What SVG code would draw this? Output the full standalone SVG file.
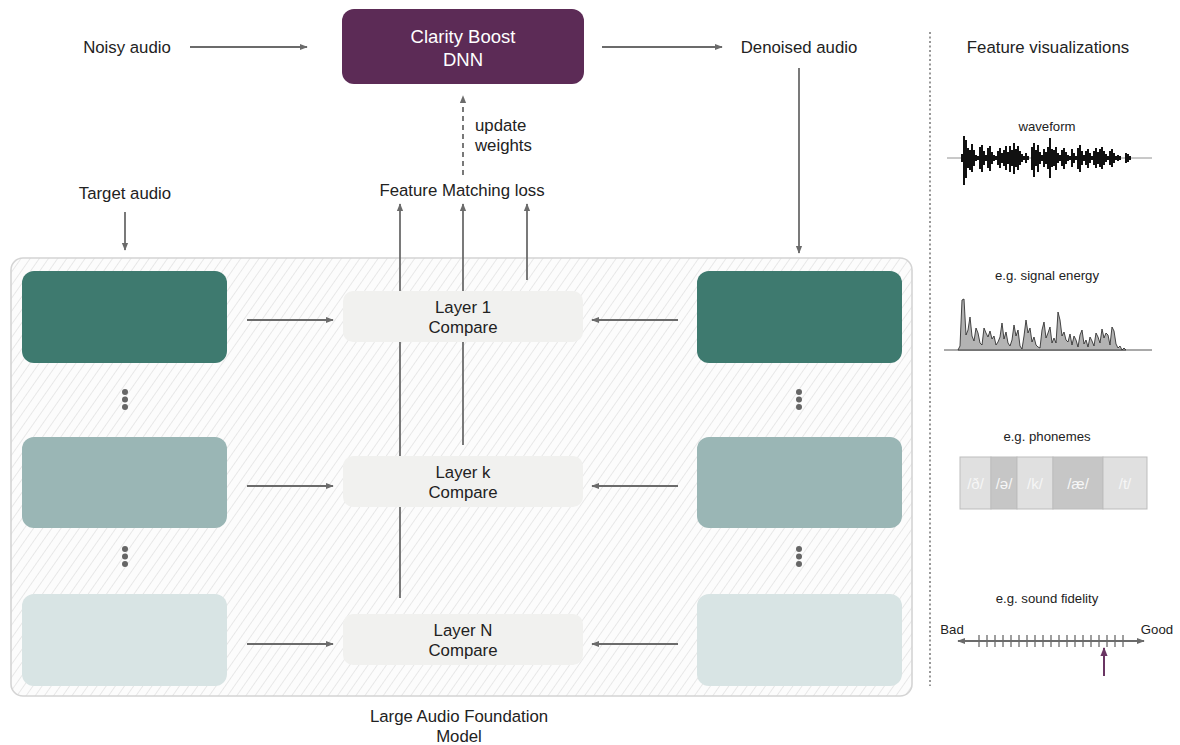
<svg xmlns="http://www.w3.org/2000/svg" width="1180" height="745" viewBox="0 0 1180 745">
<style>
text{font-family:"Liberation Sans",Arial,sans-serif;fill:#222}
.lbl{font-size:16.8px}
.sm{font-size:13.2px}
.cmp{fill:#f1f1ef}
.conn{stroke:#6b6b6b;stroke-width:1.8;fill:none}
.dot{fill:#666}
.ph{fill:#f6f6f6;font-size:15px}
</style>
<defs>
<marker id="ah" viewBox="0 0 10 10" refX="9" refY="5" markerWidth="8" markerHeight="8" orient="auto-start-reverse" markerUnits="userSpaceOnUse">
<path d="M0,1 L10,5 L0,9 z" fill="#6b6b6b"/>
</marker>
<marker id="ahp" viewBox="0 0 10 10" refX="9" refY="5" markerWidth="9" markerHeight="9" orient="auto" markerUnits="userSpaceOnUse">
<path d="M0,1 L10,5 L0,9 z" fill="#6a3563"/>
</marker>
<pattern id="hatch" width="7.5" height="7.5" patternUnits="userSpaceOnUse" patternTransform="rotate(35)">
<rect width="7.5" height="7.5" fill="#fcfcfc"/>
<line x1="0" y1="0" x2="0" y2="7.5" stroke="#dedede" stroke-width="1.3"/>
</pattern>
</defs>

<g id="container">
<rect x="11" y="258" width="901" height="438" rx="12" fill="url(#hatch)" stroke="#d4d4d4" stroke-width="1.6"/>
</g>

<g id="connectors">
<line class="conn" x1="190" y1="47" x2="307" y2="47" marker-end="url(#ah)"/>
<line class="conn" x1="602" y1="47" x2="722" y2="47" marker-end="url(#ah)"/>
<line class="conn" x1="799" y1="68" x2="799" y2="253" marker-end="url(#ah)"/>
<line class="conn" x1="125" y1="212" x2="125" y2="250" marker-end="url(#ah)"/>
<line class="conn" x1="463" y1="175" x2="463" y2="96" stroke-dasharray="5,4" marker-end="url(#ah)"/>
<line class="conn" x1="400" y1="598" x2="400" y2="204" marker-end="url(#ah)"/>
<line class="conn" x1="463" y1="445" x2="463" y2="204" marker-end="url(#ah)"/>
<line class="conn" x1="527" y1="280" x2="527" y2="204" marker-end="url(#ah)"/>
<line class="conn" x1="247" y1="320" x2="333" y2="320" marker-end="url(#ah)"/>
<line class="conn" x1="247" y1="486" x2="333" y2="486" marker-end="url(#ah)"/>
<line class="conn" x1="247" y1="644" x2="333" y2="644" marker-end="url(#ah)"/>
<line class="conn" x1="678" y1="320" x2="592" y2="320" marker-end="url(#ah)"/>
<line class="conn" x1="678" y1="486" x2="592" y2="486" marker-end="url(#ah)"/>
<line class="conn" x1="678" y1="644" x2="592" y2="644" marker-end="url(#ah)"/>
</g>

<g id="noisy"><text class="lbl" x="127" y="53" text-anchor="middle">Noisy audio</text></g>
<g id="dnn">
<rect x="342" y="9" width="242" height="75" rx="12" fill="#5c2b56"/>
<text x="463" y="43" text-anchor="middle" style="fill:#fff;font-size:18.5px">Clarity Boost</text>
<text x="463" y="66" text-anchor="middle" style="fill:#fff;font-size:18.5px">DNN</text>
</g>
<g id="denoised"><text class="lbl" x="799" y="53" text-anchor="middle">Denoised audio</text></g>
<g id="target"><text class="lbl" x="125" y="199" text-anchor="middle">Target audio</text></g>
<g id="update"><text class="lbl" x="475" y="131">update</text><text class="lbl" x="475" y="151">weights</text></g>
<g id="fml"><text class="lbl" x="462" y="196" text-anchor="middle">Feature Matching loss</text></g>

<g id="target-layer1"><rect x="22" y="271" width="205" height="92" rx="12" fill="#3e7a6f"/></g>
<g id="target-layerk"><rect x="22" y="437" width="205" height="91" rx="12" fill="#9ab6b5"/></g>
<g id="target-layerN"><rect x="22" y="594" width="205" height="92" rx="12" fill="#d8e4e4"/></g>
<g id="denoised-layer1"><rect x="697" y="271" width="205" height="92" rx="12" fill="#3e7a6f"/></g>
<g id="denoised-layerk"><rect x="697" y="437" width="205" height="91" rx="12" fill="#9ab6b5"/></g>
<g id="denoised-layerN"><rect x="697" y="594" width="205" height="92" rx="12" fill="#d8e4e4"/></g>

<g id="dots">
<circle class="dot" cx="125" cy="392" r="3"/><circle class="dot" cx="125" cy="399.5" r="3"/><circle class="dot" cx="125" cy="407" r="3"/>
<circle class="dot" cx="125" cy="549" r="3"/><circle class="dot" cx="125" cy="556.5" r="3"/><circle class="dot" cx="125" cy="564" r="3"/>
<circle class="dot" cx="799" cy="392" r="3"/><circle class="dot" cx="799" cy="399.5" r="3"/><circle class="dot" cx="799" cy="407" r="3"/>
<circle class="dot" cx="799" cy="549" r="3"/><circle class="dot" cx="799" cy="556.5" r="3"/><circle class="dot" cx="799" cy="564" r="3"/>
</g>

<g id="compare1"><rect class="cmp" x="343" y="291" width="240" height="51" rx="10"/>
<text class="lbl" x="463" y="313" text-anchor="middle">Layer 1</text><text class="lbl" x="463" y="333" text-anchor="middle">Compare</text></g>
<g id="comparek"><rect class="cmp" x="343" y="456" width="240" height="51" rx="10"/>
<text class="lbl" x="463" y="478" text-anchor="middle">Layer k</text><text class="lbl" x="463" y="498" text-anchor="middle">Compare</text></g>
<g id="compareN"><rect class="cmp" x="343" y="614" width="240" height="51" rx="10"/>
<text class="lbl" x="463" y="636" text-anchor="middle">Layer N</text><text class="lbl" x="463" y="656" text-anchor="middle">Compare</text></g>

<g id="lafm"><text class="lbl" x="459" y="722" text-anchor="middle">Large Audio Foundation</text><text class="lbl" x="459" y="742" text-anchor="middle">Model</text></g>

<line x1="930" y1="32" x2="930" y2="686" stroke="#777" stroke-width="1.5" stroke-dasharray="2,2.5"/>

<g id="featviz">
<text class="lbl" x="1048" y="53" text-anchor="middle">Feature visualizations</text>

<text class="sm" x="1047" y="131" text-anchor="middle">waveform</text>
<line x1="947" y1="158" x2="1152" y2="158" stroke="#777" stroke-width="0.8"/>
<path stroke="#111" stroke-width="2" fill="none" d="M962 154V162M964 136V185M966 140V178M968 148V168M970 150V170M972 144V172M974 150V166M976 155V161M978 156V160M980 147V169M982 145V172M984 151V165M986 155V161M988 148V168M990 146V171M992 152V164M994 155V161M996 156V160M998 151V165M1000 148V168M1002 153V163M1004 150V166M1006 146V170M1008 152V164M1010 146V172M1012 150V166M1014 143V174M1016 149V167M1018 146V170M1020 151V165M1022 154V162M1024 156V160M1026 153V163M1028 156V160M1032 147V170M1034 143V177M1036 150V166M1038 145V172M1040 152V164M1042 155V161M1044 149V167M1046 152V164M1048 147V169M1050 138V178M1052 149V167M1054 150V166M1056 147V170M1058 153V163M1060 155V161M1062 150V166M1064 148V169M1066 152V164M1068 155V161M1070 156V160M1072 149V167M1074 153V163M1076 156V160M1078 148V169M1080 145V172M1082 151V165M1084 155V161M1086 151V165M1088 149V168M1090 153V163M1092 156V160M1094 151V165M1096 148V168M1098 152V164M1100 149V167M1102 147V169M1104 151V165M1106 154V162M1108 156V160M1110 151V165M1112 149V167M1114 153V163M1116 156V160M1118 155V161M1120 156V160M1126 153V163M1128 154V162M1130 156V160"/>

<text class="sm" x="1047" y="280" text-anchor="middle">e.g. signal energy</text>
<line x1="944" y1="350" x2="1152" y2="350" stroke="#555" stroke-width="1"/>
<path fill="#b3b3b3" stroke="#333" stroke-width="0.9" stroke-linejoin="round" d="M958 350L960 346L962 300L964 299L966 335L968 330L970 317L972 336L974 341L976 328L978 333L980 343L982 345L984 328L986 333L988 337L990 331L992 339L994 336L996 345L998 342L1000 337L1002 323L1004 339L1006 332L1008 343L1010 346L1012 340L1014 325L1016 336L1018 330L1020 346L1022 349L1024 336L1026 320L1028 333L1030 328L1032 342L1034 337L1036 345L1038 347L1040 348L1042 330L1044 322L1046 338L1048 333L1050 327L1052 343L1054 338L1056 343L1058 312L1060 320L1062 336L1064 332L1066 340L1068 342L1070 334L1072 345L1074 336L1076 340L1078 347L1080 335L1082 330L1084 344L1086 340L1088 347L1090 337L1092 341L1094 346L1096 333L1098 337L1100 343L1102 329L1104 338L1106 333L1108 335L1110 345L1112 327L1114 331L1116 344L1118 348L1120 346L1122 350L1124 348L1126 350Z"/>

<text class="sm" x="1047" y="441" text-anchor="middle">e.g. phonemes</text>
<rect x="960" y="457" width="31" height="52" fill="#e0e0e0" stroke="#bdbdbd" stroke-width="1"/>
<rect x="991" y="457" width="26" height="52" fill="#c6c6c6" stroke="#bdbdbd" stroke-width="1"/>
<rect x="1017" y="457" width="36" height="52" fill="#e0e0e0" stroke="#bdbdbd" stroke-width="1"/>
<rect x="1053" y="457" width="50" height="52" fill="#c6c6c6" stroke="#bdbdbd" stroke-width="1"/>
<rect x="1103" y="457" width="44" height="52" fill="#e0e0e0" stroke="#bdbdbd" stroke-width="1"/>
<text class="ph" x="975.5" y="489" text-anchor="middle">/ð/</text>
<text class="ph" x="1004" y="489" text-anchor="middle">/ə/</text>
<text class="ph" x="1035" y="489" text-anchor="middle">/k/</text>
<text class="ph" x="1078" y="489" text-anchor="middle">/æ/</text>
<text class="ph" x="1125" y="489" text-anchor="middle">/t/</text>

<text class="sm" x="1047" y="603" text-anchor="middle">e.g. sound fidelity</text>
<text class="sm" x="952" y="634" text-anchor="middle">Bad</text>
<text class="sm" x="1157" y="634" text-anchor="middle">Good</text>
<line x1="958" y1="641" x2="1144" y2="641" stroke="#6b6b6b" stroke-width="1.8" marker-start="url(#ah)" marker-end="url(#ah)"/>
<path stroke="#6b6b6b" stroke-width="1.3" d="M979 635V647M987 635V647M995 635V647M1003 635V647M1011 635V647M1019 635V647M1027 635V647M1035 635V647M1043 635V647M1051 635V647M1059 635V647M1067 635V647M1075 635V647M1083 635V647M1091 635V647M1099 635V647M1107 635V647M1115 635V647M1123 635V647"/>
<line x1="1104" y1="676" x2="1104" y2="648" stroke="#6a3563" stroke-width="2" marker-end="url(#ahp)"/>
</g>
</svg>
